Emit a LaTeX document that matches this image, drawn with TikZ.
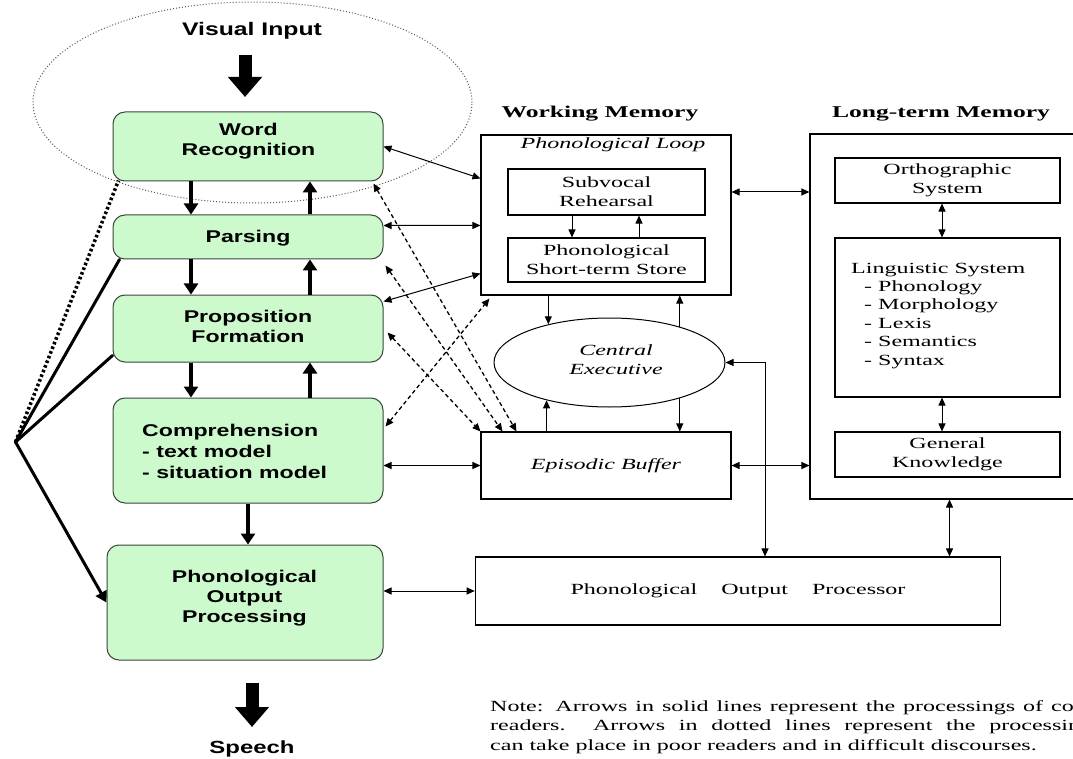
\documentclass[tikz,border=0pt]{standalone}
\usepackage{fontspec}
\setmainfont{Liberation Serif}[FakeStretch=1.55]
\newfontfamily\sansf{Liberation Sans}[FakeStretch=1.36]
\usetikzlibrary{arrows.meta,calc,shapes.geometric}
\definecolor{gfill}{RGB}{205,250,205}
\definecolor{gdraw}{RGB}{60,70,60}
\newcommand\rfsz{\fontsize{15.5}{19}\selectfont}
\newcommand\gfsz{\sansf\bfseries\fontsize{17}{20}\selectfont}
\tikzset{
  gbox/.style={draw=gdraw, fill=gfill, rounded corners=12pt, line width=1pt, inner sep=0pt},
  gtxt/.style={font=\gfsz, align=center, inner sep=0pt},
  rbox/.style={draw=black, line width=1.1pt, inner sep=0pt},
  rtxt/.style={font=\rfsz, align=center},
  thk/.style={line width=4pt, -{Triangle[width=14pt,length=11pt]}},
  big/.style={line width=13pt, -{Triangle[width=33pt,length=20pt]}},
  thn/.style={line width=1pt, {Triangle[width=7pt,length=8pt]}-{Triangle[width=7pt,length=8pt]}},
  thone/.style={line width=1pt, -{Triangle[width=7pt,length=8pt]}},
  dsh/.style={line width=1.3pt, dash pattern=on 4pt off 3pt, {Triangle[width=7pt,length=8pt]}-{Triangle[width=7pt,length=8pt]}},
  lft/.style={line width=3pt, line cap=round}
}
\begin{document}
\begin{tikzpicture}[x=1pt,y=-1pt]
\useasboundingbox (0,0) rectangle (1073,759);
\fill[white] (0,0) rectangle (1073,759);
\begin{scope}
\clip (0,0) rectangle (1073,759);

% dotted ellipse around visual input
\draw[black!65, line width=1pt, dash pattern=on 1pt off 2pt] (252.5,102.5) ellipse [x radius=219.5pt, y radius=100.5pt];

% green boxes
\node[gbox, minimum width=270pt, minimum height=69pt] (wr) at (248,146.5) {};
\node[gtxt] (wrt) at (248.5,141) {Word\\Recognition};
\node[gbox, minimum width=270pt, minimum height=44pt] (pa) at (248,237) {};
\node[gtxt] (pat) at (248,238) {Parsing};
\node[gbox, minimum width=270pt, minimum height=67pt] (pf) at (248,328.5) {};
\node[gtxt] (pft) at (248,326.5) {Proposition\\Formation};
\node[gbox, minimum width=270pt, minimum height=105pt] (co) at (248,450.5) {};
\node[gtxt, align=left, anchor=west, font=\sansf\bfseries\fontsize{17}{21}\selectfont] (cot) at (142,451) {Comprehension\\- text model\\- situation model};
\node[gbox, minimum width=276pt, minimum height=115pt] (pop) at (245,602.5) {};
\node[gtxt] (popt) at (244.5,598) {Phonological\\Output\\Processing};

% input / output
\node[font=\sansf\bfseries\fontsize{18.2}{22}\selectfont, inner sep=0pt] (vi) at (252,31) {Visual Input};
\coordinate (via) at (245,55);
\coordinate (vib) at (245,97);
\draw[big] (via) -- (vib);
\node[font=\sansf\bfseries\fontsize{17.6}{21}\selectfont, inner sep=0pt] (sp) at (252,749) {Speech};
\coordinate (spa) at (252,683);
\coordinate (spb) at (252,727);
\draw[big] (spa) -- (spb);

% thick arrows between stages
\coordinate (xd) at (191,0);
\coordinate (xu) at (310,0);
\draw[thk] (xd |- wr.south) -- (xd |- pa.north);
\draw[thk] (xd |- pa.south) -- (xd |- pf.north);
\draw[thk] (xd |- pf.south) -- (xd |- co.north);
\draw[thk] (xu |- pa.north) -- (xu |- wr.south);
\draw[thk] (xu |- pf.north) -- (xu |- pa.south);
\draw[thk] (xu |- co.north) -- (xu |- pf.south);
\draw[thk] (co.south) -- (co.south |- pop.north);

% left lines from apex
\coordinate (apex) at (15.5,442);
\draw[line width=3.5pt, dash pattern=on 2.6pt off 2.4pt] (apex) -- ($(wr.south west)+(6,-1)$);
\draw[lft] (apex) -- ($(pa.south west)+(7,0)$);
\draw[lft] (apex) -- ($(pf.south west)+(0,-7)$);
\draw[lft, -{Triangle[width=12pt,length=11pt]}] (apex) -- (pop.west);

% working memory
\node[font=\fontsize{16.5}{20}\selectfont\bfseries, inner sep=0pt] (wmh) at (600,114) {Working Memory};
\node[font=\fontsize{16.5}{20}\selectfont\bfseries, inner sep=0pt] (ltmh) at (941,114) {Long-term Memory};

\node[rbox, minimum width=250pt, minimum height=160pt] (pl) at (606,215) {};
\node[font=\rfsz\itshape, inner sep=0pt] (plt) at (613,145) {Phonological Loop};
\node[rbox, rtxt, minimum width=197pt, minimum height=46pt] (sr) at (606.5,192) {Subvocal\\Rehearsal};
\node[rbox, rtxt, minimum width=197pt, minimum height=44pt] (st) at (606.5,260) {Phonological\\Short-term Store};
\coordinate (xs1) at (572,0);
\coordinate (xs2) at (639,0);
\draw[thone] (xs1 |- sr.south) -- (xs1 |- st.north);
\draw[thone] (xs2 |- st.north) -- (xs2 |- sr.south);

\node[draw, ellipse, line width=1pt, minimum width=231pt, minimum height=89pt, inner sep=0pt] (ce) at (609.5,362.5) {};
\node[rtxt, font=\rfsz\itshape, inner sep=0pt] (cet) at (616,360) {Central\\Executive};
\node[rbox, rtxt, font=\rfsz\itshape, minimum width=250pt, minimum height=67pt] (eb) at (606,465.5) {Episodic Buffer};

\draw[thone] (pl.south -| ce.148.5) -- (ce.148.5);
\draw[thone] (ce.27) -- (ce.27 |- pl.south);
\draw[thone] (ce.211.5 |- eb.north) -- (ce.211.5);
\draw[thone] (ce.333) -- (ce.333 |- eb.north);

% long-term memory
\node[rbox, minimum width=280pt, minimum height=365pt] (ltm) at (950,316.5) {};
\node[rbox, rtxt, minimum width=225pt, minimum height=45pt] (os) at (947.5,180.5) {Orthographic\\System};
\node[rbox, minimum width=225pt, minimum height=159pt] (ls) at (947.5,317.5) {};
\node[font=\rfsz, anchor=base west, inner sep=0pt] (ls0) at (851,273) {Linguistic System};
\node[font=\rfsz, anchor=base west, inner sep=0pt] (ls1) at (864,291.4) {- Phonology};
\node[font=\rfsz, anchor=base west, inner sep=0pt] (ls2) at (864,309.8) {- Morphology};
\node[font=\rfsz, anchor=base west, inner sep=0pt] (ls3) at (864,328.2) {- Lexis};
\node[font=\rfsz, anchor=base west, inner sep=0pt] (ls4) at (864,346.6) {- Semantics};
\node[font=\rfsz, anchor=base west, inner sep=0pt] (ls5) at (864,365) {- Syntax};
\node[rbox, rtxt, minimum width=225pt, minimum height=45pt] (gk) at (947.5,454.5) {General\\Knowledge};
\coordinate (xl) at (942,0);
\draw[thn] (xl |- os.south) -- (xl |- ls.north);
\draw[thn] (xl |- ls.south) -- (xl |- gk.north);
\coordinate (yl) at (0,192);
\draw[thn] (pl.east |- yl) -- (ltm.west |- yl);
\draw[thn] (eb.east) -- (eb.east -| ltm.west);

% phonological output processor
\node[rbox, rtxt, minimum width=525.5pt, minimum height=68pt] (pout) at (738,591) {Phonological\hspace{24pt}Output\hspace{24pt}Processor};
\coordinate (xo) at (949.5,0);
\draw[thn] (xo |- ltm.south) -- (xo |- pout.north);
\coordinate (cv) at (765,0);
\draw[thn] (ce.east) -- (ce.east -| cv) -- (cv |- pout.north);

% left to right connectors
\draw[thn] (wr.east) -- ($(pl.north west)+(0,44)$);
\draw[thn] ($(pa.north east)+(0,11)$) -- ($(pl.north west)+(0,91)$);
\draw[thn] ($(pf.north east)+(0,7)$) -- ($(pl.south west)+(0,-22)$);
\draw[thn] (co.east |- eb.west) -- (eb.west);
\draw[thn] (pop.east |- pout.west) -- (pout.west);

% dashed connectors
\draw[dsh] ($(wr.south east)+(-10,2)$) -- ($(eb.north west)+(36,0)$);
\draw[dsh] ($(pa.south east)+(2,6)$) -- ($(eb.north west)+(22,0)$);
\draw[dsh] ($(pf.east)+(4,4)$) -- (eb.north west);
\draw[dsh] ($(co.north east)+(2,29)$) -- ($(pl.south west)+(9,3)$);

% note (cut off at the right edge, as in the reference)
\node[font=\rfsz, anchor=base west, inner sep=0pt] (n1) at (490,711) {\makebox[661pt][s]{Note: Arrows in solid lines represent the processings of competent}};
\node[font=\rfsz, anchor=base west, inner sep=0pt] (n2) at (490,730.5) {\makebox[661pt][s]{readers.\ \ Arrows in dotted lines represent the processings that}};
\node[font=\rfsz, anchor=base west, inner sep=0pt] (n3) at (490,750) {can take place in poor readers and in difficult discourses.};
\end{scope}
\end{tikzpicture}
\end{document}
